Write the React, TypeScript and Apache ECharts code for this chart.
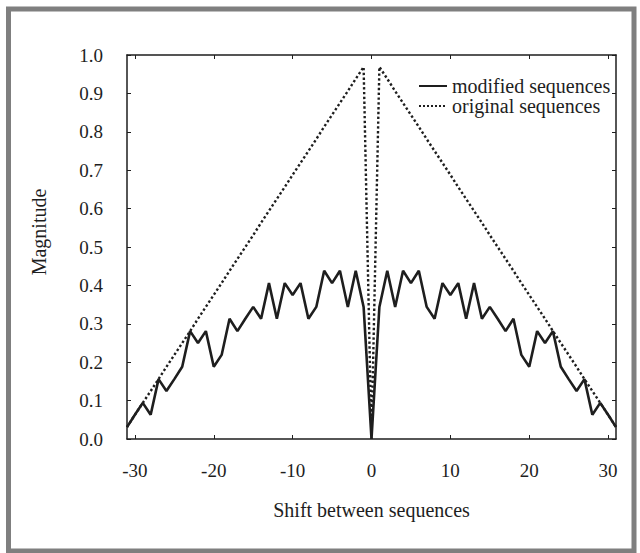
import React, { useEffect, useRef } from "react";
import * as echarts from "echarts";

// ---- data ----
const shifts = [
  -31, -30, -29, -28, -27, -26, -25, -24, -23, -22, -21, -20, -19, -18, -17, -16,
  -15, -14, -13, -12, -11, -10, -9, -8, -7, -6, -5, -4, -3, -2, -1, 0,
  1, 2, 3, 4, 5, 6, 7, 8, 9, 10, 11, 12, 13, 14, 15, 16,
  17, 18, 19, 20, 21, 22, 23, 24, 25, 26, 27, 28, 29, 30, 31,
];

const modifiedSequences = [
  0.031, 0.063, 0.094, 0.063, 0.156, 0.125, 0.156, 0.188, 0.281, 0.25, 0.281, 0.188, 0.219, 0.313, 0.281, 0.313,
  0.344, 0.313, 0.406, 0.313, 0.406, 0.375, 0.406, 0.313, 0.344, 0.438, 0.406, 0.438, 0.344, 0.438, 0.344, 0.0,
  0.344, 0.438, 0.344, 0.438, 0.406, 0.438, 0.344, 0.313, 0.406, 0.375, 0.406, 0.313, 0.406, 0.313, 0.344, 0.313,
  0.281, 0.313, 0.219, 0.188, 0.281, 0.25, 0.281, 0.188, 0.156, 0.125, 0.156, 0.063, 0.094, 0.063, 0.031,
];

const originalSequences = [
  0.031, 0.063, 0.094, 0.125, 0.156, 0.188, 0.219, 0.25, 0.281, 0.313, 0.344, 0.375, 0.406, 0.438, 0.469, 0.5,
  0.531, 0.563, 0.594, 0.625, 0.656, 0.688, 0.719, 0.75, 0.781, 0.813, 0.844, 0.875, 0.906, 0.938, 0.969, 0.0,
  0.969, 0.938, 0.906, 0.875, 0.844, 0.813, 0.781, 0.75, 0.719, 0.688, 0.656, 0.625, 0.594, 0.563, 0.531, 0.5,
  0.469, 0.438, 0.406, 0.375, 0.344, 0.313, 0.281, 0.25, 0.219, 0.188, 0.156, 0.125, 0.094, 0.063, 0.031,
];

const xTickValues = [-30, -20, -10, 0, 10, 20, 30];
const seriesNames = ["modified sequences", "original sequences"];
const xAxisTitle = "Shift between sequences";
const yAxisTitle = "Magnitude";

const FONT = "'Liberation Serif', 'Times New Roman', serif";
const INK = "#1e1e1e";

export default function App() {
  const ref = useRef<HTMLDivElement>(null);

  useEffect(() => {
    if (!ref.current) return;
    const chart = echarts.init(ref.current, undefined, { renderer: "svg" });

    const axisLine = { show: true, onZero: false, lineStyle: { color: INK, width: 1.5 } };
    const tick = (customValues?: number[]) => ({
      show: true,
      inside: true,
      length: 4,
      lineStyle: { color: INK, width: 1 },
      ...(customValues ? { customValues } : {}),
    });

    chart.setOption({
      animation: false,
      backgroundColor: "#ffffff",
      grid: { left: 127, right: 24, top: 55, bottom: 114, containLabel: false },
      legend: {
        orient: "vertical",
        left: 413,
        top: 71,
        itemWidth: 28,
        itemHeight: 10,
        itemGap: 0,
        data: seriesNames,
        itemStyle: { opacity: 0 },
        textStyle: { fontFamily: FONT, fontSize: 20, color: INK, lineHeight: 19 },
      },
      xAxis: [
        {
          type: "value",
          position: "bottom",
          min: -31,
          max: 31,
          axisLine,
          splitLine: { show: false },
          axisTick: tick(xTickValues),
          axisLabel: {
            customValues: xTickValues,
            margin: 22,
            fontFamily: FONT,
            fontSize: 19,
            color: INK,
          },
          name: xAxisTitle,
          nameLocation: "middle",
          nameGap: 61,
          nameTextStyle: { fontFamily: FONT, fontSize: 20, color: INK },
        },
        {
          type: "value",
          position: "top",
          min: -31,
          max: 31,
          axisLine,
          splitLine: { show: false },
          axisTick: tick(xTickValues),
          axisLabel: { show: false },
        },
      ],
      yAxis: [
        {
          type: "value",
          position: "left",
          min: 0,
          max: 1,
          interval: 0.1,
          axisLine,
          splitLine: { show: false },
          axisTick: tick(),
          axisLabel: {
            formatter: (v: number) => v.toFixed(1),
            margin: 24,
            fontFamily: FONT,
            fontSize: 19,
            color: INK,
          },
        },
        {
          type: "value",
          position: "right",
          min: 0,
          max: 1,
          interval: 0.1,
          axisLine,
          splitLine: { show: false },
          axisTick: tick(),
          axisLabel: { show: false },
        },
      ],
      series: [
        {
          name: seriesNames[0],
          type: "line",
          xAxisIndex: 0,
          yAxisIndex: 0,
          data: shifts.map((s, i) => [s, modifiedSequences[i]]),
          symbol: "none",
          lineStyle: { color: INK, width: 2.6 },
          itemStyle: { color: INK },
          z: 3,
        },
        {
          name: seriesNames[1],
          type: "line",
          xAxisIndex: 0,
          yAxisIndex: 0,
          data: shifts.map((s, i) => [s, originalSequences[i]]),
          symbol: "none",
          lineStyle: { color: INK, width: 2.4, type: "dotted" },
          itemStyle: { color: INK },
          z: 2,
        },
      ],
      graphic: [
        {
          type: "rect",
          silent: true,
          shape: { x: 8.5, y: 9, width: 625.5, height: 542 },
          style: { fill: "none", stroke: "#7f7f7f", lineWidth: 5 },
        },
        {
          type: "text",
          x: 39,
          y: 232,
          rotation: Math.PI / 2,
          style: {
            text: yAxisTitle,
            fontFamily: FONT,
            fontSize: 20,
            fill: INK,
            align: "center",
            verticalAlign: "middle",
          },
        },
      ],
    });

    return () => chart.dispose();
  }, []);

  return (
    <div
      ref={ref}
      style={{ position: "fixed", left: 0, top: 0, width: 640, height: 553 }}
    />
  );
}
